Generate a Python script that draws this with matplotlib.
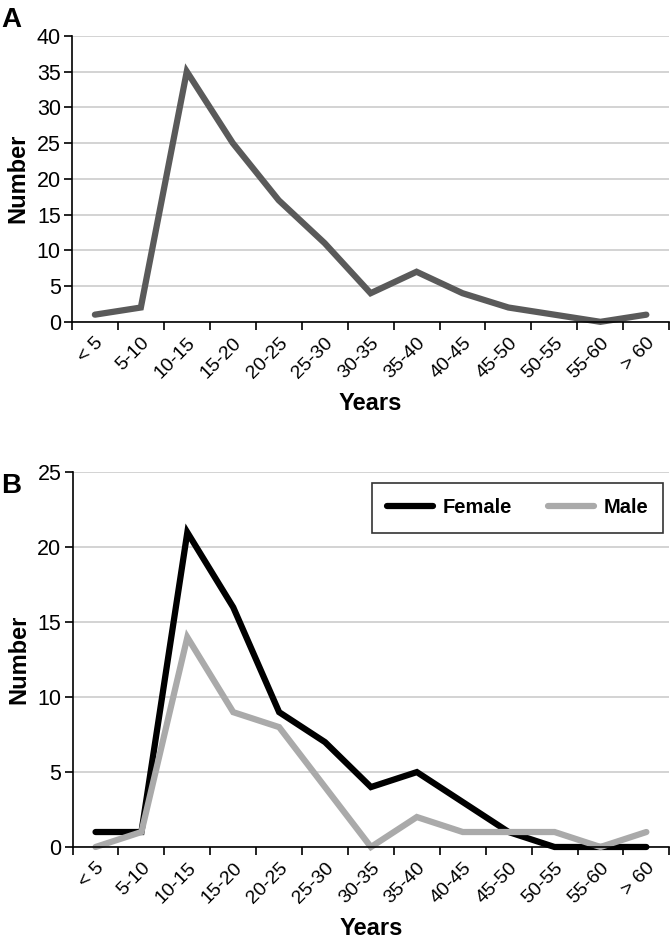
import matplotlib
matplotlib.use("Agg")
import matplotlib.pyplot as plt
from matplotlib import font_manager

# age groups shared by both panels
age_groups = ["< 5", "5-10", "10-15", "15-20", "20-25", "25-30", "30-35",
              "35-40", "40-45", "45-50", "50-55", "55-60", "> 60"]
total = [1, 2, 35, 25, 17, 11, 4, 7, 4, 2, 1, 0, 1]
female = [1, 1, 21, 16, 9, 7, 4, 5, 3, 1, 0, 0, 0]
male = [0, 1, 14, 9, 8, 4, 0, 2, 1, 1, 1, 0, 1]

names = {f.name for f in font_manager.fontManager.ttflist}
fam = "Liberation Sans Narrow" if "Liberation Sans Narrow" in names else "Liberation Sans"
plt.rcParams["font.family"] = [fam, "DejaVu Sans"]


def style_axis(ax, ymax, step):
    n = len(age_groups)
    x = list(range(n))
    ax.set_xlim(-0.5, n - 0.5)
    ax.set_ylim(0, ymax)
    ax.set_yticks(range(0, ymax + 1, step))
    # ticks at category boundaries, labels at centres
    ax.set_xticks([i - 0.5 for i in range(n + 1)])
    ax.set_xticklabels([])
    ax.set_xticks(x, minor=True)
    ax.set_xticklabels(age_groups, minor=True, rotation=45, ha="right",
                       rotation_mode="anchor", fontsize=14)
    ax.tick_params(axis="x", which="major", length=6, width=1.2, direction="out")
    ax.tick_params(axis="x", which="minor", length=0, pad=9)
    ax.tick_params(axis="y", length=6, width=1.2, labelsize=15.5, pad=2)
    ax.spines["top"].set_visible(False)
    ax.spines["right"].set_visible(False)
    ax.spines["left"].set_linewidth(1.2)
    ax.spines["bottom"].set_linewidth(1.2)
    ax.grid(axis="y", color="#cccccc", linewidth=1.2)
    ax.set_axisbelow(True)
    ax.set_ylabel("Number", fontsize=17, fontweight="bold", labelpad=5)
    ax.set_xlabel("Years", fontsize=17, fontweight="bold", labelpad=7)
    return x


fig = plt.figure(figsize=(6.72, 9.41), dpi=100)

ax1 = fig.add_axes([0.107, 0.658, 0.889, 0.304])
x = style_axis(ax1, 40, 5)
ax1.plot(x, total, color="#5a5a5a", linewidth=4.5, solid_capstyle="round",
         solid_joinstyle="miter", clip_on=False)
fig.text(0.002, 0.979, "A", fontsize=20, fontweight="bold", va="center")

ax2 = fig.add_axes([0.108, 0.0999, 0.888, 0.398])
x = style_axis(ax2, 25, 5)
ax2.plot(x, female, color="black", linewidth=4.5, solid_capstyle="round",
         solid_joinstyle="miter", clip_on=False, label="Female")
ax2.plot(x, male, color="#aaaaaa", linewidth=4.5, solid_capstyle="round",
         solid_joinstyle="miter", clip_on=False, label="Male")
leg = ax2.legend(loc="upper right", bbox_to_anchor=(0.99, 0.971), ncol=2,
                 borderaxespad=0, fancybox=False, edgecolor="#333333",
                 framealpha=1, prop={"weight": "bold", "size": 14.5},
                 handlelength=2.3, columnspacing=1.8, borderpad=0.75,
                 handletextpad=0.45)
leg.get_frame().set_linewidth(1.2)
fig.text(0.002, 0.484, "B", fontsize=20, fontweight="bold", va="center")

fig.savefig("out.png", dpi=100)
